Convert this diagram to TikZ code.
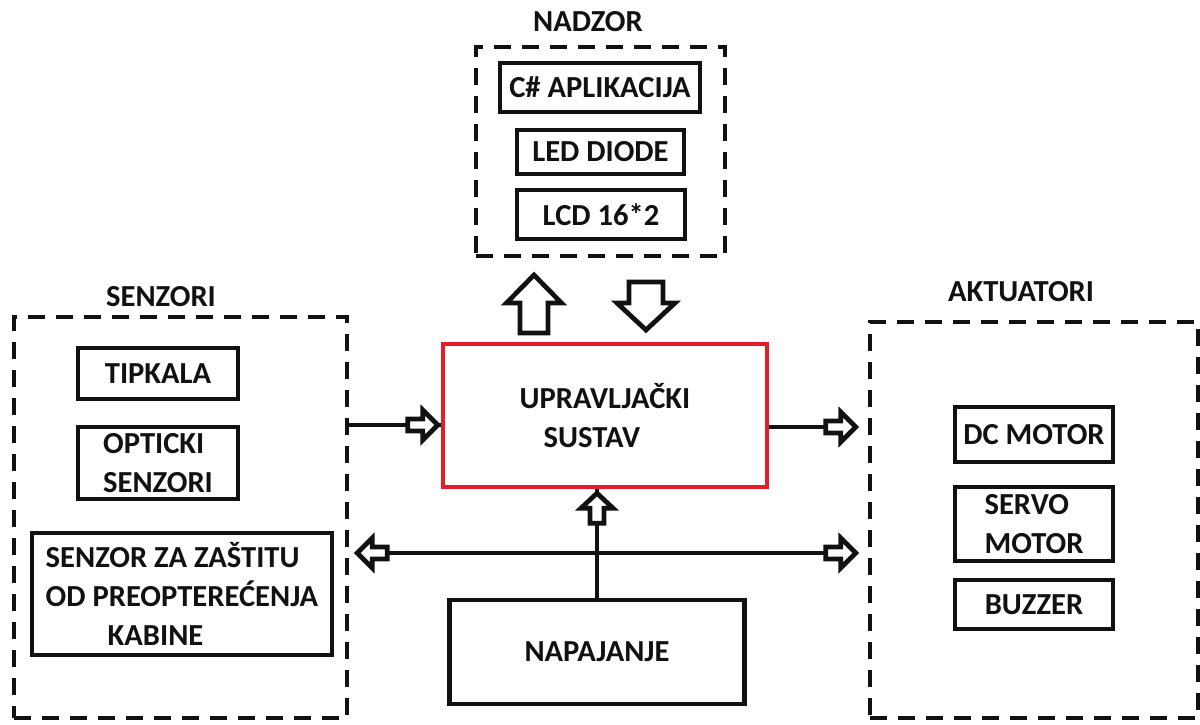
\documentclass[tikz,border=0pt]{standalone}
\usepackage{fontspec}
\setmainfont{Carlito}
\usetikzlibrary{positioning,calc}
\definecolor{Ink}{HTML}{111111}
\definecolor{CtrlRed}{HTML}{E11F2B}
\newcommand{\unitfont}{\bfseries\fontsize{17.4}{22}\selectfont}
\tikzset{
  groupbox/.style={draw=Ink,line width=2.6pt,dash pattern=on 0.34cm off 0.22cm,inner sep=0pt},
  unitbox/.style={draw=Ink,line width=2.8pt,fill=white,font=\unitfont,text=Ink,align=left,inner sep=0pt},
  ctrlbox/.style={unitbox,draw=CtrlRed,line width=2.5pt},
  grouptitle/.style={font=\unitfont,text=Ink},
  wire/.style={draw=Ink,line width=2.6pt},
  pics/blockarrow/.style n args={4}{code={
    \draw[draw=Ink,fill=white,line width=2.7pt,line join=miter]
      (-#1,-#4) -- ({-#2},-#4) -- ({-#2},-#3) -- (0,0) -- ({-#2},#3) -- ({-#2},#4) -- (-#1,#4) -- cycle;
  }}
}
\begin{document}
\begin{tikzpicture}[x=0.02cm,y=-0.02cm]
  \useasboundingbox (0,0) rectangle (1200,724);
  % nadzor
  \node[grouptitle] (tNadzor) at (588,22) {NADZOR};
  \node[groupbox,minimum width=4.98cm,minimum height=4.18cm] (nadzor) at (600.5,151.5) {};
  \node[unitbox,minimum width=4cm,minimum height=0.98cm] (csharp) at (600,87.5) {C\# APLIKACIJA};
  \node[unitbox,minimum width=3.34cm,minimum height=0.88cm] (led) at (600.5,152) {LED DIODE};
  \node[unitbox,minimum width=3.36cm,minimum height=0.98cm] (lcd) at (601,214.5) {LCD 16*2};
  % senzori
  \node[grouptitle] (tSenzori) at (161,297) {SENZORI};
  \node[groupbox,minimum width=6.66cm,minimum height=8.02cm] (senzori) at (180.5,517.5) {};
  \node[unitbox,minimum width=3.2cm,minimum height=1.02cm] (tipkala) at (158,373.5) {TIPKALA};
  \node[unitbox,minimum width=3.2cm,minimum height=1.44cm] (opticki) at (158,463) {OPTICKI\\SENZORI};
  \node[unitbox,minimum width=6cm,minimum height=2.44cm] (zastita) at (182,594)
    {SENZOR ZA ZAŠTITU\\OD PREOPTEREĆENJA\\\hspace*{1.24cm}KABINE};
  % upravljacki sustav
  \node[ctrlbox,minimum width=6.48cm,minimum height=2.86cm] (upr) at (605,415.5) {UPRAVLJAČKI\\\hspace*{0.48cm}SUSTAV};
  % aktuatori
  \node[grouptitle] (tAktuatori) at (1021,292) {AKTUATORI};
  \node[groupbox,minimum width=6.56cm,minimum height=7.92cm] (aktuatori) at (1034,520) {};
  \node[unitbox,minimum width=3.16cm,minimum height=1.1cm] (dcmotor) at (1034,434.5) {DC MOTOR};
  \node[unitbox,minimum width=3.16cm,minimum height=1.48cm] (servo) at (1034,524) {SERVO\\MOTOR};
  \node[unitbox,minimum width=3.16cm,minimum height=0.98cm] (buzzer) at (1034,604.5) {BUZZER};
  % napajanje
  \node[unitbox,minimum width=5.9cm,minimum height=2.08cm] (napajanje) at (597,652) {NAPAJANJE};
  % nadzor <-> upr
  \pic[rotate=90] at (534,275) {blockarrow={58}{28}{27.5}{14}};
  \pic[rotate=-90] at (646,330) {blockarrow={48}{27}{29}{17}};
  % senzori -> upr -> aktuatori
  \draw[wire] (senzori.east |- 0,425) -- (upr.west |- 0,425);
  \pic at ($(upr.west |- 0,425)+(-3,0)$) {blockarrow={30}{15}{15}{6}};
  \draw[wire] (upr.east |- 0,427) -- ($(aktuatori.west |- 0,427)+(-12,0)$);
  \pic at ($(aktuatori.west |- 0,427)+(-12,0)$) {blockarrow={30}{15}{15}{6}};
  % sabirnica
  \draw[wire] ($(senzori.east |- 0,553)+(8,0)$) -- ($(aktuatori.west |- 0,553)+(-12,0)$);
  \pic[rotate=180] at ($(senzori.east |- 0,553)+(8,0)$) {blockarrow={30}{15}{15}{6}};
  \pic at ($(aktuatori.west |- 0,553)+(-12,0)$) {blockarrow={30}{15}{15}{6}};
  % napajanje -> upr
  \draw[wire] (napajanje.north) -- (napajanje.north |- upr.south);
  \pic[rotate=90] at ($(napajanje.north |- upr.south)+(0,4)$) {blockarrow={30}{15}{16}{7}};
\end{tikzpicture}
\end{document}
